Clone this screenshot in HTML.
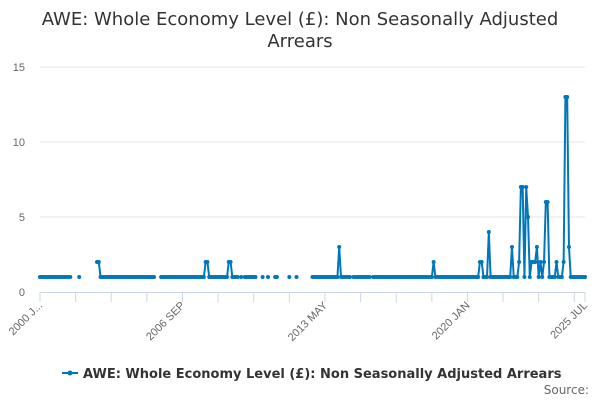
<!DOCTYPE html>
<html><head><meta charset="utf-8"><style>
body{margin:0;background:#fff;font-family:"Liberation Sans","DejaVu Sans",sans-serif}
</style></head><body>
<svg width="600" height="400" xmlns="http://www.w3.org/2000/svg" id="c">
<text x="300" y="25" text-anchor="middle" font-size="18" fill="#333" font-family="DejaVu Sans,sans-serif">AWE: Whole Economy Level (£): Non Seasonally Adjusted<tspan x="300" dy="22">Arrears</tspan></text>
<g id="grid"></g><g id="xaxis"></g><g id="series"></g>
<g>
<line x1="62" y1="373" x2="78" y2="373" stroke="#0077bb" stroke-width="2"/><circle cx="70" cy="373" r="2.5" fill="#0077bb"/>
<text x="83" y="378" font-size="13" font-weight="bold" fill="#333" font-family="DejaVu Sans,sans-serif">AWE: Whole Economy Level (£): Non Seasonally Adjusted Arrears</text></g>
<text x="589" y="394" text-anchor="end" font-size="12" fill="#666" font-family="DejaVu Sans,sans-serif">Source:</text>
</svg>
<script>
const n=null;
const values=[1,1,1,1,1,1,1,1,1,1, 1,1,1,1,1,1,1,1,n,n, n,n,1,n,n,n,n,n,n,n, n,n,2,2,1,1,1,1,1,1,
1,1,1,1,1,1,1,1,1,1, 1,1,1,1,1,1,1,1,1,1, 1,1,1,1,1,n,n,n,1,1, 1,1,1,1,1,1,1,1,1,1,
1,1,1,1,1,1,1,1,1,1, 1,1,1,2,2,1,1,1,1,1, 1,1,1,1,1,1,2,2,1,1, 1,1,n,1,n,1,1,1,1,1,
1,1,n,n,n,1,n,n,1,n, n,n,1,1,n,n,n,n,n,n, 1,n,n,n,1,n,n,n,n,n, n,n,n,1,1,1,1,1,1,1,
1,1,1,1,1,1,1,1,3,1, 1,1,1,1,1,n,1,1,1,1, 1,1,1,1,1,1,n,1,1,1, 1,1,1,1,1,1,1,1,1,1,
1,1,1,1,1,1,1,1,1,1, 1,1,1,1,1,1,1,1,1,1, 1,2,1,1,1,1,1,1,1,1, 1,1,1,1,1,1,1,1,1,1,
1,1,1,1,1,1,1,2,2,1, 1,1,4,1,1,1,1,1,1,1, 1,1,1,1,1,3,1,1,1,2, 7,7,1,7,5,1,2,2,2,3,
1,2,1,2,6,6,1,1,1,1, 2,1,1,1,2,13,13,3,1,1, 1,1,1,1,1,1,1];
const yTicks=[0,5,10,15];
const xLabels=[[0,"2000 J..."],[80,"2006 SEP"],[160,"2013 MAY"],[240,"2020 JAN"],[306,"2025 JUL"]];
const NS="http://www.w3.org/2000/svg";
const X0=40,X1=585,Y0=292,YS=15;
const x=i=>X0+(X1-X0)*i/(values.length-1);
const y=v=>Y0-v*YS;
function mk(t,a,p){const e=document.createElementNS(NS,t);for(const k in a)e.setAttribute(k,a[k]);p.appendChild(e);return e;}
const g=document.getElementById('grid'),xa=document.getElementById('xaxis'),s=document.getElementById('series');
yTicks.forEach(v=>{
 if(v>0){const l=mk('line',{x1:X0,x2:X1,y1:y(v),y2:y(v),stroke:'#e6e6e6'},g);
 
 }
 const t=mk('text',{x:25,y:y(v)+4,'text-anchor':'end','font-size':11,fill:'#666'},g);t.textContent=v;
 
 
});
const ax=mk('line',{x1:X0,x2:X1,y1:Y0+0.5,y2:Y0+0.5,stroke:'#ccd6eb'},xa);


for(let i=0;i<values.length;i+=20){mk('line',{x1:x(i),x2:x(i),y1:Y0,y2:Y0+10,stroke:'#ccd6eb'},xa);}
mk('line',{x1:X1,x2:X1,y1:Y0,y2:Y0+10,stroke:'#ccd6eb'},xa);
xLabels.forEach(([i,l])=>{const t=mk('text',{x:x(i)+3,y:Y0+14,'text-anchor':'end','font-size':11,fill:'#666',transform:`rotate(-45 ${x(i)+3} ${Y0+14})`},xa);t.textContent=l;
 
 });
let d='',pen=false;
values.forEach((v,i)=>{if(v===null){pen=false;return;}d+=(pen?'L':'M')+x(i).toFixed(2)+' '+y(v)+' ';pen=true;});
const p=mk('path',{d:d,fill:'none',stroke:'#0077bb','stroke-width':2,'stroke-linejoin':'round'},s);


values.forEach((v,i)=>{if(v===null)return;const c=mk('circle',{cx:x(i),cy:y(v),r:2,fill:'#0077bb'},s);
 
 });
</script>
</body></html>
